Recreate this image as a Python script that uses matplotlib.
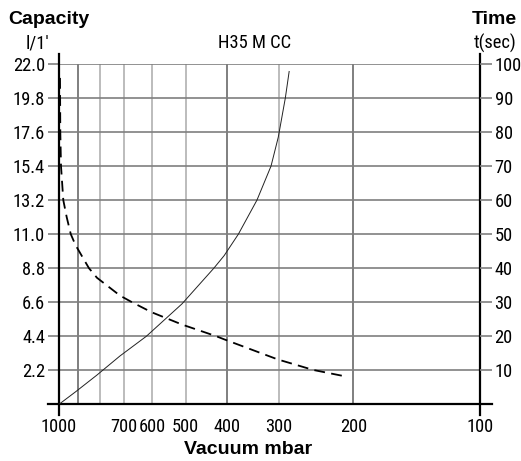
import os
import matplotlib
matplotlib.use('Agg')
import matplotlib.pyplot as plt
from matplotlib import font_manager
from matplotlib.font_manager import FontProperties
from matplotlib.ticker import NullLocator

# vacuum axis (mbar), log scale running 1000 -> 100
p_ticks = [1000, 700, 600, 500, 400, 300, 200, 100]
p_grid_dark = [900, 400, 200]
p_grid_light = [800, 700, 600, 500, 300]

# left axis: capacity l/1'
cap_ticks = [2.2, 4.4, 6.6, 8.8, 11.0, 13.2, 15.4, 17.6, 19.8, 22.0]
# right axis: time in seconds
time_ticks = [10, 20, 30, 40, 50, 60, 70, 80, 90, 100]

# dashed curve - capacity vs vacuum
cap_p = [994.5, 992.9, 989.1, 976.8, 958.8, 937.6, 913.9, 848.9, 812.5, 716.5, 670.9,
         602.4, 509.6, 423.0, 405.2, 302.2, 248.9, 207.6]
cap_v = [21.1, 17.6, 15.4, 13.2, 12.1, 11.0, 10.3, 8.8, 8.18, 7.03, 6.6,
         5.95, 5.15, 4.4, 4.2, 2.9, 2.22, 1.79]

# solid curve - pump down time vs vacuum
time_p = [1000, 912.7, 812.5, 716.5, 620, 510.5, 428.7, 405.2, 374.9, 338.7, 313.6, 301.4, 290, 284]
time_s = [0, 3.7, 8.6, 14.2, 20, 29.5, 40, 43.7, 50, 60, 70, 78.5, 90, 97.8]

# look for a narrow font for the plotter-like labels
prefs = ['LiberationSansNarrow-Regular', 'RobotoCondensed-Regular', 'Roboto_Condensed-Regular',
         'NotoSans-Condensed.', 'DejaVuSansCondensed.', 'OpenSans_Condensed-Regular',
         'OpenSansCondensed']
files = [f.fname for f in font_manager.fontManager.ttflist]
narrow = None
for key in prefs:
    hits = [f for f in files if key in os.path.basename(f)]
    if hits:
        narrow = FontProperties(fname=hits[0], size=13.3)
        break
if narrow is None:
    narrow = FontProperties(family='DejaVu Sans Mono', size=10.5)

BOLD = 'Liberation Sans'

fig = plt.figure(figsize=(5.21, 4.61), dpi=100)
ax = fig.add_axes([59/521, 1 - 404.3/461, 421/521, 340.3/461])
ax2 = ax.twinx()

ax.set_xscale('log')
ax.set_xlim(1000, 100)
ax.set_ylim(0, 22.0)
ax2.set_ylim(0, 100)

for s in list(ax.spines.values()) + list(ax2.spines.values()):
    s.set_visible(False)

# grid
ax.set_yticks(cap_ticks, ['%.1f' % v for v in cap_ticks])
ax.yaxis.grid(True, color='#7f7f7f', lw=1.2)
for p in p_grid_dark:
    ax.axvline(p, color='#6a6a6a', lw=1.2, zorder=1)
for p in p_grid_light:
    ax.axvline(p, color='#bcbcbc', lw=1.4, zorder=1)

# axis lines, sticking out a little past the plot area
for p in [1000, 100]:
    ax.axvline(p, ymin=-11/340, ymax=1 + 10/340, color='black', lw=1.6, clip_on=False, zorder=3)
ax.axhline(0, xmin=-11/421, xmax=1 + 12/421, color='black', lw=1.6, clip_on=False, zorder=3)

ax.set_xticks(p_ticks, [str(p) for p in p_ticks])
ax.xaxis.set_minor_locator(NullLocator())
ax.tick_params(axis='x', length=0, pad=10)
ax.tick_params(axis='y', length=8, width=1.2, color='#7f7f7f', pad=2)

ax2.set_yticks(time_ticks, [str(t) for t in time_ticks])
ax2.tick_params(axis='y', length=8.5, width=1.2, color='#7f7f7f', pad=2)

for lab in ax.get_xticklabels() + ax.get_yticklabels() + ax2.get_yticklabels():
    lab.set_fontproperties(narrow)

ax.plot(cap_p, cap_v, color='black', lw=1.3, dashes=(6, 3.5), zorder=4)
ax2.plot(time_p, time_s, color='#222222', lw=0.7, zorder=4)

fig.text(8/521, 1 - 20/461, 'Capacity', family=BOLD, weight='bold', fontsize=14,
         ha='left', va='center')
fig.text(37.5/521, 1 - 43/461, "l/1'", fontproperties=narrow, ha='center', va='center')
fig.text(255/521, 1 - 43/461, 'H35 M CC', fontproperties=narrow, ha='center', va='center')
fig.text(517/521, 1 - 20/461, 'Time', family=BOLD, weight='bold', fontsize=14,
         ha='right', va='center')
fig.text(517/521, 1 - 43/461, 't(sec)', fontproperties=narrow, ha='right', va='center')
fig.text(248/521, 1 - 449/461, 'Vacuum mbar', family=BOLD, weight='bold', fontsize=14,
         ha='center', va='center')

fig.savefig('out.png', dpi=100)
